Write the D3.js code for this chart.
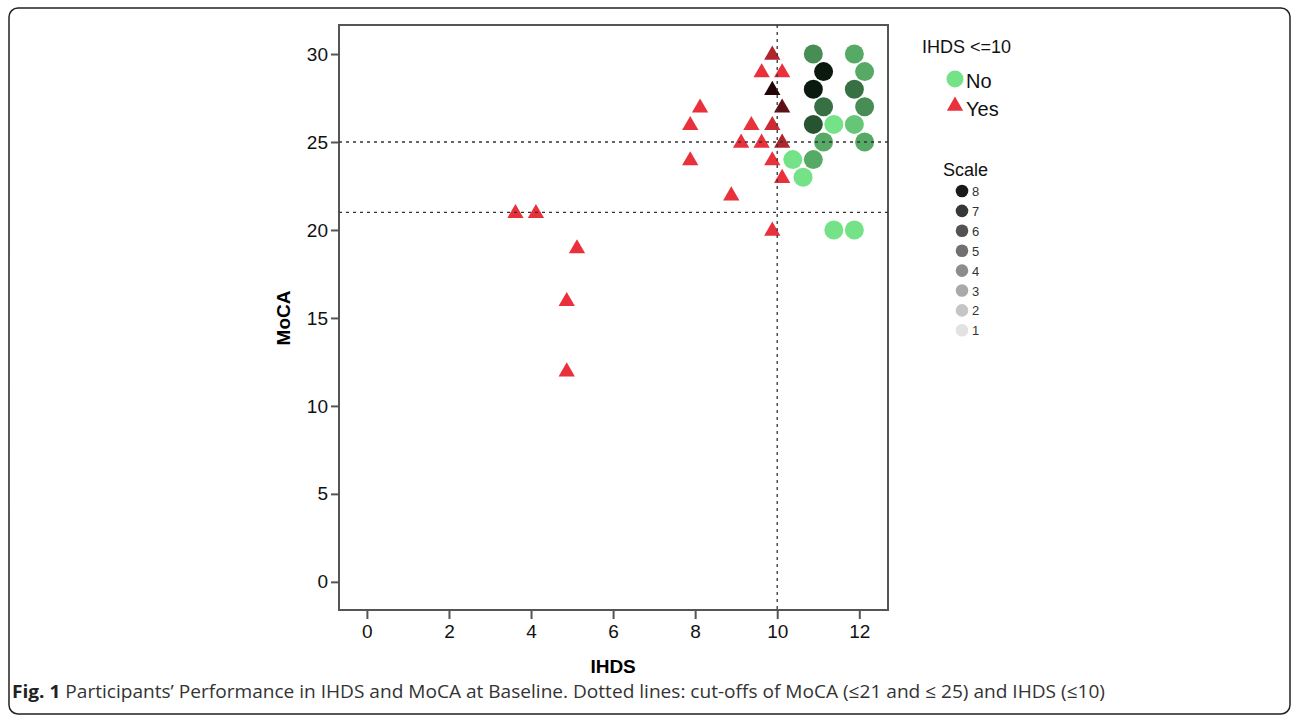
<!DOCTYPE html>
<html>
<head>
<meta charset="utf-8">
<script src="https://cdn.jsdelivr.net/npm/d3@7"></script>
<style>
  body { margin: 0; background: #fff; }
  svg { display: block; }
  .tick text { font-family: 'Liberation Sans', Arial, sans-serif; }
</style>
</head>
<body>
<svg id="chart" width="1292" height="720"></svg>
<script>
// IHDS <= 10 : Yes (triangles)
const yesIHDS  = [3.62, 4.12, 5.12, 4.87, 4.87, 7.88, 8.12, 7.88, 8.88, 9.12, 9.37, 9.62, 9.62, 9.88, 9.88, 9.88, 9.88, 9.88, 10.12, 10.12, 10.12, 10.12]
const yesMoCA  = [21, 21, 19, 16, 12, 26, 27, 24, 22, 25, 26, 25, 29, 30, 28, 26, 24, 20, 29, 27, 25, 23]
const yesScale = [1, 1, 1, 1, 1, 1, 1, 1, 1, 1, 1, 1, 1, 3, 8, 2, 1, 1, 1, 6, 3, 1]

// IHDS <= 10 : No (circles)
const noIHDS  = [10.88, 11.13, 10.88, 11.13, 10.88, 11.13, 11.38, 11.88, 12.13, 11.88, 12.13, 11.88, 12.13, 10.38, 10.88, 10.63, 11.38, 11.88]
const noMoCA  = [30, 29, 28, 27, 26, 25, 26, 30, 29, 28, 27, 26, 25, 24, 24, 23, 20, 20]
const noScale = [4, 8, 8, 5, 6, 3, 1, 3, 3, 5, 4, 2, 3, 1, 3, 1, 1, 1]

const xTicks = [0, 2, 4, 6, 8, 10, 12]
const yTicks = [0, 5, 10, 15, 20, 25, 30]
const mocaCutoffs = [21, 25]
const ihdsCutoff = 10
const scaleLevels = [8, 7, 6, 5, 4, 3, 2, 1]

const svg = d3.select('#chart')
const font = "'Liberation Sans', Arial, sans-serif"

// outer figure frame
svg.append('rect')
    .attr('x', 9).attr('y', 8)
    .attr('width', 1281).attr('height', 706)
    .attr('rx', 9)
    .attr('fill', 'none')
    .attr('stroke', '#222')
    .attr('stroke-width', 1.5)

let pLeft = 339, pRight = 888, pTop = 25, pBottom = 610

let x = d3.scaleLinear().domain([-0.68, 12.7]).range([pLeft, pRight])
let y = d3.scaleLinear().domain([-1.6, 31.65]).range([pBottom, pTop])

let greenCol = d3.interpolateRgb('#74e388', '#0a1a0e')
let redCol = d3.interpolateRgb('#e8313b', '#240406')
let grayCol = d3.interpolateRgb('#e2e2e2', '#1a1a1a')
let tOf = s => (s - 1) / 7

// plot frame
svg.append('rect')
    .attr('x', pLeft).attr('y', pTop)
    .attr('width', pRight - pLeft).attr('height', pBottom - pTop)
    .attr('fill', 'none')
    .attr('stroke', '#555')
    .attr('stroke-width', 2)

// axes
let xAxis = svg.append('g')
    .attr('transform', 'translate(0,' + pBottom + ')')
    .call(d3.axisBottom(x).tickValues(xTicks).tickSize(9).tickPadding(6))
let yAxis = svg.append('g')
    .attr('transform', 'translate(' + pLeft + ',0)')
    .call(d3.axisLeft(y).tickValues(yTicks).tickSize(8).tickPadding(3))

;[xAxis, yAxis].forEach(g => {
  g.select('.domain').remove()
  g.selectAll('.tick line').attr('stroke', '#555').attr('stroke-width', 2)
  g.selectAll('.tick text').attr('font-size', 19).attr('fill', '#111')
})

// axis titles
svg.append('text')
    .attr('x', (x(0) + x(12)) / 2).attr('y', 673)
    .attr('text-anchor', 'middle')
    .attr('font-family', font).attr('font-weight', 'bold').attr('font-size', 19)
    .text('IHDS')
svg.append('text')
    .attr('transform', 'translate(290,' + ((y(0) + y(30)) / 2) + ') rotate(-90)')
    .attr('text-anchor', 'middle')
    .attr('font-family', font).attr('font-weight', 'bold').attr('font-size', 19)
    .text('MoCA')

// points: triangles (Yes)
let tri = d3.symbol().type(d3.symbolTriangle).size(115)
svg.append('g').selectAll('path')
    .data(yesIHDS.map((v, i) => ({ x: v, y: yesMoCA[i], s: yesScale[i] })))
  .enter().append('path')
    .attr('d', tri)
    .attr('transform', d => 'translate(' + x(d.x) + ',' + (y(d.y) + 1) + ')')
    .attr('fill', d => redCol(tOf(d.s)))

// points: circles (No)
svg.append('g').selectAll('circle')
    .data(noIHDS.map((v, i) => ({ x: v, y: noMoCA[i], s: noScale[i] })))
  .enter().append('circle')
    .attr('cx', d => x(d.x))
    .attr('cy', d => y(d.y))
    .attr('r', 9.5)
    .attr('fill', d => greenCol(tOf(d.s)))

// cut-off lines (drawn on top)
svg.append('g').selectAll('line')
    .data(mocaCutoffs)
  .enter().append('line')
    .attr('x1', pLeft).attr('x2', pRight)
    .attr('y1', d => y(d)).attr('y2', d => y(d))
    .attr('stroke', '#333').attr('stroke-width', 1.3)
    .attr('stroke-dasharray', '3,4')
svg.append('line')
    .attr('x1', x(ihdsCutoff)).attr('x2', x(ihdsCutoff))
    .attr('y1', pTop).attr('y2', pBottom)
    .attr('stroke', '#333').attr('stroke-width', 1.3)
    .attr('stroke-dasharray', '3,4')

// legend
let lg = svg.append('g').attr('font-family', font).attr('fill', '#111')
lg.append('text').attr('x', 922).attr('y', 53).attr('font-size', 18).text('IHDS <=10')
lg.append('circle').attr('cx', 955).attr('cy', 79).attr('r', 8.5).attr('fill', greenCol(0))
lg.append('text').attr('x', 966).attr('y', 88).attr('font-size', 20).text('No')
lg.append('path').attr('d', tri).attr('transform', 'translate(955,106)').attr('fill', redCol(0))
lg.append('text').attr('x', 966).attr('y', 116).attr('font-size', 20).text('Yes')
lg.append('text').attr('x', 943).attr('y', 176).attr('font-size', 18).text('Scale')

let sg = lg.append('g').selectAll('g')
    .data(scaleLevels)
  .enter().append('g')
    .attr('transform', (d, i) => 'translate(962,' + (191 + i * 19.9) + ')')
sg.append('circle').attr('r', 6.3).attr('fill', d => grayCol(tOf(d)))
sg.append('text').attr('x', 10).attr('y', 5).attr('font-size', 13).attr('fill', '#333').text(d => d)

// caption
let cap = svg.append('text')
    .attr('x', 12).attr('y', 698)
    .attr('font-family', "'Open Sans', sans-serif").attr('font-size', 18.5).attr('fill', '#333')
cap.append('tspan').attr('font-weight', 'bold').attr('fill', '#222').text('Fig. 1')
cap.append('tspan').text(' Participants\u2019 Performance in IHDS and MoCA at Baseline. Dotted lines: cut-offs of MoCA (\u226421 and \u2264 25) and IHDS (\u226410)')
cap.attr('textLength', 1093).attr('lengthAdjust', 'spacingAndGlyphs')
</script>
</body>
</html>
